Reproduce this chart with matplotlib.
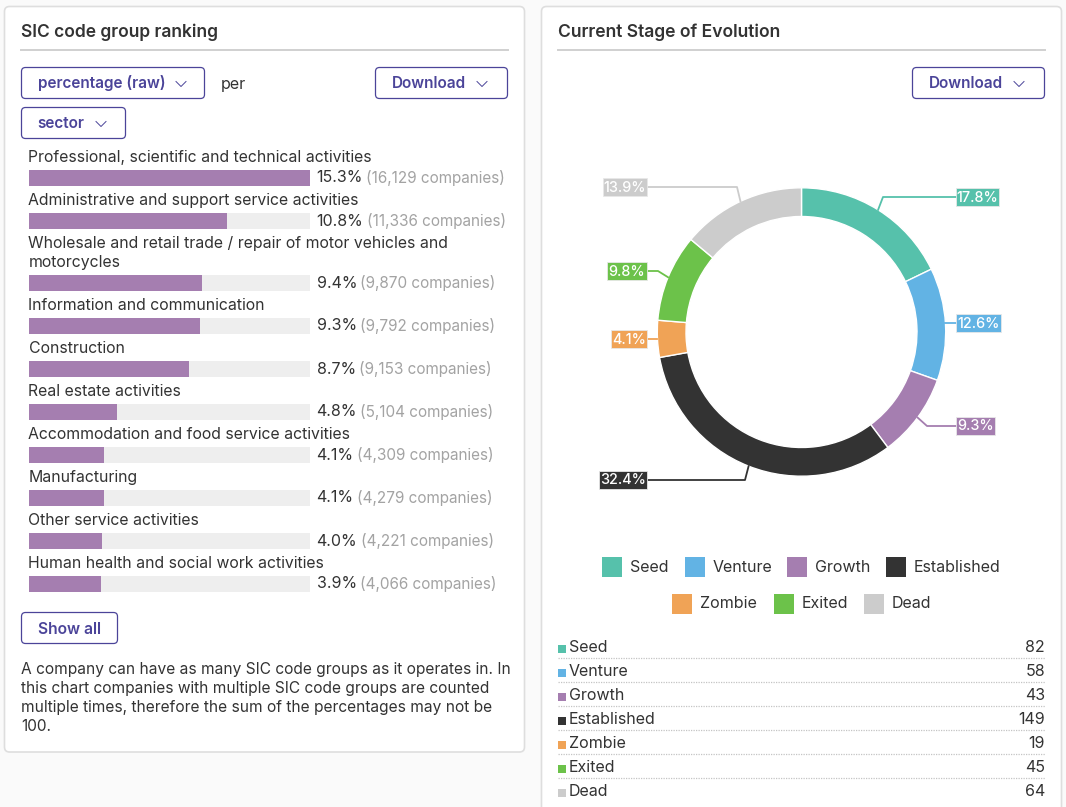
import math
import matplotlib
matplotlib.use("Agg")
import matplotlib.pyplot as plt
from matplotlib.patches import FancyBboxPatch, Rectangle

plt.rcParams['font.family'] = ['Inter', 'DejaVu Sans']

W, H = 1066, 807
TEXT = '#333333'
BTN = '#4b4499'
GREY = '#a3a3a3'

sectors = [
    ['Professional, scientific and technical activities'],
    ['Administrative and support service activities'],
    ['Wholesale and retail trade / repair of motor vehicles and', 'motorcycles'],
    ['Information and communication'],
    ['Construction'],
    ['Real estate activities'],
    ['Accommodation and food service activities'],
    ['Manufacturing'],
    ['Other service activities'],
    ['Human health and social work activities'],
]
sector_pct = [15.3, 10.8, 9.4, 9.3, 8.7, 4.8, 4.1, 4.1, 4.0, 3.9]
sector_companies = ['16,129', '11,336', '9,870', '9,792', '9,153', '5,104', '4,309', '4,279', '4,221', '4,066']

stages = ['Seed', 'Venture', 'Growth', 'Established', 'Zombie', 'Exited', 'Dead']
stage_counts = [82, 58, 43, 149, 19, 45, 64]
stage_pct = ['17.8%', '12.6%', '9.3%', '32.4%', '4.1%', '9.8%', '13.9%']
stage_colors = ['#56c1ab', '#62b3e4', '#a57eb0', '#333333', '#f0a356', '#6cc24a', '#cccccc']

note_lines = [
    'A company can have as many SIC code groups as it operates in. In',
    'this chart companies with multiple SIC code groups are counted',
    'multiple times, therefore the sum of the percentages may not be',
    '100.',
]

fig = plt.figure(figsize=(W / 100, H / 100), dpi=100, facecolor='#fafafa')
bg = fig.add_axes([0, 0, 1, 1], zorder=0)
bg.set_xlim(0, W)
bg.set_ylim(H, 0)
bg.axis('off')


def px(size):
    return size * 0.72


def card(x0, y0, x1, y1):
    bg.add_patch(FancyBboxPatch((x0, y0), x1 - x0, y1 - y0,
                                boxstyle='round,pad=0,rounding_size=5',
                                fc='white', ec='#dedede', lw=1.2))


def button(x0, y0, x1, y1, label, tx, chev):
    bg.add_patch(FancyBboxPatch((x0, y0), x1 - x0, y1 - y0,
                                boxstyle='round,pad=0,rounding_size=4',
                                fc='white', ec=BTN, lw=0.9))
    bg.text(tx, (y0 + y1) / 2, label, color=BTN, fontsize=px(15.3), fontweight='semibold',
            va='center', ha='left')
    cy = (y0 + y1) / 2 + 1
    bg.plot([chev - 5, chev, chev + 5], [cy - 2.5, cy + 2.5, cy - 2.5], color=BTN, lw=0.7)


card(4.5, 6.5, 524.5, 752)
card(541.5, 6.5, 1061.5, 830)

# Headers
bg.text(21, 32.5, 'SIC code group ranking', color=TEXT, fontsize=px(17.4), fontweight='semibold', va='center')
bg.plot([21, 508], [50, 50], color='#d0d0d0', lw=1.4)
bg.text(558, 32.5, 'Current Stage of Evolution', color=TEXT, fontsize=px(17.5), fontweight='semibold', va='center')
bg.plot([558, 1045], [50, 50], color='#d0d0d0', lw=1.4)

button(21.5, 67.5, 204.5, 98.5, 'percentage (raw)', 37.5, 181)
bg.text(221, 84, 'per', color=TEXT, fontsize=px(16), va='center')
button(375.5, 67.5, 507.5, 98.5, 'Download', 392, 482)
button(21.5, 107.5, 125.5, 138.5, 'sector', 37.5, 101)
button(912.5, 67.5, 1044.5, 98.5, 'Download', 929, 1019)

# Ranking bars
bars = fig.add_axes([29 / W, 0, 281 / W, 1], zorder=1)
bars.set_xlim(0, max(sector_pct))
bars.set_ylim(H, 0)
bars.axis('off')
bars.patch.set_alpha(0)

renderer = fig.canvas.get_renderer()
y = 156
for lines, pct, comp in zip(sectors, sector_pct, sector_companies):
    for i, line in enumerate(lines):
        bg.text(28.5, y + 1.5 + 19 * i, line, color=TEXT, fontsize=px(15.8), va='center')
    by = y + 19 * (len(lines) - 1) + 22
    bars.barh(by, max(sector_pct), height=16, color='#eeeeee', linewidth=0)
    bars.barh(by, pct, height=16, color=stage_colors[2], linewidth=0)
    t = bg.text(316.5, by, f'{pct}%', color=TEXT, fontsize=px(16), va='center')
    tw = t.get_window_extent(renderer).width
    bg.text(316.5 + tw + 3.5, by, f'({comp} companies)', color=GREY, fontsize=px(15.3), va='center')
    y = by + 21

bg.add_patch(FancyBboxPatch((21.5, 612.5), 96, 31, boxstyle='round,pad=0,rounding_size=4',
                            fc='white', ec=BTN, lw=0.9))
bg.text(69.5, 629, 'Show all', color=BTN, fontsize=px(15.6), fontweight='semibold', va='center', ha='center')

for i, line in enumerate(note_lines):
    bg.text(21, 669.5 + 19 * i, line, color=TEXT, fontsize=px(15.5), va='center')

# Donut
CX, CY, R, R_IN = 801.5, 332, 144.2, 115.5
M = 1.05
pie = fig.add_axes([(CX - R * M) / W, 1 - (CY + R * M) / H, 2 * R * M / W, 2 * R * M / H], zorder=1)
pie.patch.set_alpha(0)
pie.pie(stage_counts, colors=stage_colors, startangle=90, counterclock=False, radius=1,
        wedgeprops=dict(width=1 - R_IN / R, edgecolor='white', linewidth=1))
pie.set_xlim(-M, M)
pie.set_ylim(-M, M)
pie.set_aspect('equal')

over = fig.add_axes([0, 0, 1, 1], zorder=2)
over.set_xlim(0, W)
over.set_ylim(H, 0)
over.axis('off')
over.patch.set_alpha(0)

# label box: left, right, centre y; elbow of leader (or None)
label_layout = [
    (956, 999, 197, (883, 197)),
    (956, 1001, 323, None),
    (956, 995, 426, (927, 426)),
    (599, 647, 480, (745, 480)),
    (611, 647, 339, None),
    (607, 647, 271, (658, 271)),
    (603, 647, 187, (737, 187)),
]
total = sum(stage_counts)
cum = 0
for val, lab, col, (x0, x1, yc, elbow) in zip(stage_counts, stage_pct, stage_colors, label_layout):
    ang = 2 * math.pi * (cum + val / 2) / total
    cum += val
    sx, sy = CX + R * math.sin(ang), CY - R * math.cos(ang)
    edge = x0 if sx > CX else x1
    xs, ys = [sx], [sy]
    if elbow:
        xs.append(elbow[0]); ys.append(elbow[1])
    else:
        ys[0] = yc
    xs.append(edge); ys.append(yc)
    over.plot(xs, ys, color=col, lw=1.3, solid_joinstyle='round')
    over.add_patch(Rectangle((x0, yc - 9), x1 - x0, 18, fc=col, ec='#e8e8e8', lw=0.6, zorder=3))
    over.text((x0 + x1) / 2, yc + 0.5, lab, color='white', fontsize=px(14.4), fontweight='medium',
              va='center', ha='center', zorder=4)

# Legend
legend_layout = [(602, 567), (684.5, 567), (787, 567), (885.5, 567), (672, 604), (773.5, 604), (864, 604)]
for name, col, (lx, ly) in zip(stages, stage_colors, legend_layout):
    bg.add_patch(Rectangle((lx, ly - 10), 20, 20, fc=col, ec='none'))
    bg.text(lx + 28, ly, name, color=TEXT, fontsize=px(16), va='center')

# Table
for i, (name, n, col) in enumerate(zip(stages, stage_counts, stage_colors)):
    ry = 646 + 24 * i
    bg.add_patch(Rectangle((558, ry - 1), 8, 8, fc=col, ec='none'))
    bg.text(569, ry + 1.5, name, color=TEXT, fontsize=px(16), va='center')
    bg.text(1045, ry + 1.5, str(n), color=TEXT, fontsize=px(16), va='center', ha='right')
    if i < len(stages) - 1:
        bg.plot([558, 1045], [ry + 11.5, ry + 11.5], color='#c4c4c4', lw=0.9, ls=(0, (1, 1)))

fig.savefig('out.png', dpi=100, facecolor=fig.get_facecolor())
